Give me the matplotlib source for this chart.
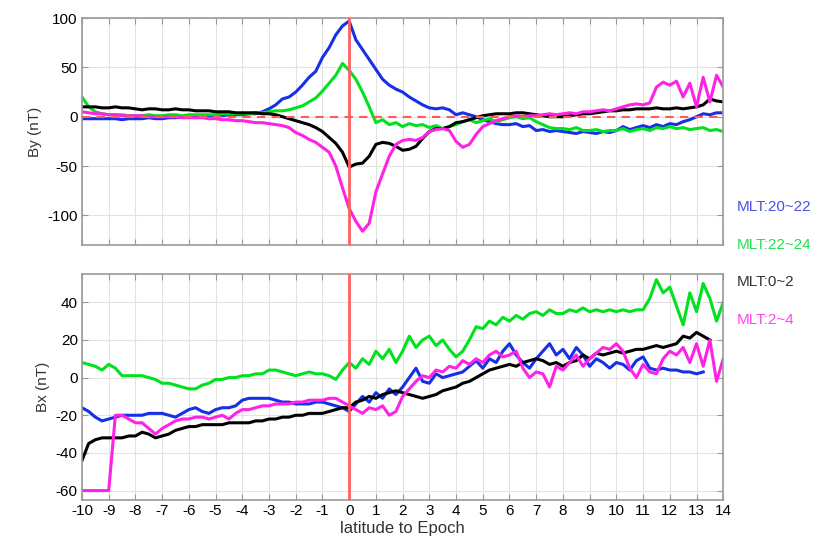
import numpy as np
import matplotlib
matplotlib.use("Agg")
import matplotlib.pyplot as plt

plt.rcParams['font.family'] = ['Liberation Sans', 'DejaVu Sans']
plt.rcParams['axes.unicode_minus'] = False

# sample positions (latitude to epoch), 0.25 deg
lat = np.arange(-10, 14.01, 0.25)
nan = np.nan

# By (nT), top panel
by_20_22 = [-2, -2, -2, -2, -2, -2, -3, -2, -2, -2, -1, -2, -2, -1, -1, 0,
            0, 0, 1, 1, 1, 1, 2, 2, 2, 3, 3, 5, 8, 12, 18, 20,
            25, 32, 40, 46, 60, 70, 83, 92, 97, 78, 68, 58, 48, 38, 32, 28,
            25, 20, 16, 12, 9, 8, 9, 7, 2, 4, 2, 0, -3, -5, -7, -8,
            -8, -7, -10, -9, -14, -13, -15, -14, -15, -16, -17, -15, -16, -17, -15, -16,
            -14, -10, -13, -11, -9, -11, -8, -10, -7, -8, -5, -3, 0, 3, 2, 4,
            4]
by_22_24 = [20, 10, 5, 3, 2, 2, 2, 1, 1, 1, 2, 1, 1, 2, 2, 1,
            2, 2, 2, 2, 2, 3, 3, 3, 3, 3, 4, 4, 5, 6, 6, 7,
            9, 11, 15, 19, 26, 34, 42, 54, 47, 38, 25, 10, -6, -3, -8, -6,
            -10, -7, -9, -8, -11, -9, -12, -10, -8, -5, -3, -6, -4, -2, -5, -3,
            -1, 0, -2, -1, -5, -8, -11, -12, -12, -13, -11, -14, -14, -13, -15, -14,
            -14, -12, -15, -13, -12, -14, -11, -12, -10, -12, -11, -13, -12, -11, -14, -13,
            -15]
by_0_2 = [10, 10, 10, 9, 9, 10, 9, 9, 8, 7, 8, 8, 7, 7, 8, 7,
          7, 6, 6, 6, 5, 5, 5, 4, 4, 4, 4, 3, 3, 2, 0, -2,
          -4, -6, -8, -11, -15, -21, -27, -36, -51, -48, -47, -40, -28, -26, -27, -30,
          -34, -33, -30, -22, -15, -12, -12, -10, -6, -5, -3, -1, 1, 2, 3, 3,
          3, 4, 4, 3, 2, 1, 0, 0, 0, 1, 2, 3, 3, 4, 5, 6,
          6, 7, 7, 8, 8, 8, 9, 8, 8, 9, 8, 9, 10, 12, 18, 16,
          15]
by_2_4 = [5, 4, 3, 3, 2, 2, 1, 1, 1, 1, 0, 0, 0, 0, 0, -1,
          -1, -1, -1, -2, -2, -3, -3, -4, -4, -5, -6, -6, -7, -8, -9, -11,
          -16, -19, -23, -26, -31, -36, -50, -72, -93, -106, -116, -108, -76, -58, -40, -28,
          -24, -23, -24, -21, -15, -13, -12, -14, -25, -31, -28, -18, -10, -7, -4, -2,
          0, 1, 0, 1, 1, 2, 3, 2, 3, 4, 3, 5, 5, 6, 7, 6,
          8, 10, 12, 13, 12, 14, 30, 35, 32, 36, 20, 34, 10, 40, 15, 42,
          30]

# Bx (nT), bottom panel
bx_20_22 = [-16, -18, -21, -23, -22, -21, -20, -20, -20, -20, -19, -19, -19, -20, -21, -19,
            -17, -16, -18, -19, -17, -16, -16, -15, -12, -11, -11, -11, -11, -12, -13, -13,
            -14, -14, -14, -13, -13, -14, -15, -16, -18, -14, -10, -13, -8, -11, -6, -9,
            -5, 0, 5, -2, -3, 2, 0, 1, 2, 3, 6, 9, 5, 10, 8, 14,
            18, 12, 8, 5, 10, 14, 18, 12, 15, 10, 16, 12, 6, 10, 8, 5,
            8, 7, 4, 9, 11, 5, 4, 5, 4, 4, 3, 3, 2, 3, nan, nan,
            nan]
bx_22_24 = [8, 7, 6, 4, 7, 5, 1, 1, 1, 1, 0, -1, -3, -3, -4, -5,
            -6, -6, -4, -3, -1, -1, 0, 0, 1, 1, 2, 2, 4, 4, 3, 2,
            1, 2, 3, 2, 2, 1, -1, 4, 8, 5, 10, 7, 14, 10, 15, 8,
            14, 22, 16, 20, 22, 17, 20, 15, 11, 14, 20, 27, 26, 30, 28, 32,
            30, 33, 31, 34, 35, 33, 36, 34, 34, 36, 35, 37, 35, 36, 35, 36,
            35, 36, 35, 36, 36, 42, 52, 45, 48, 38, 28, 45, 35, 50, 42, 30,
            40]
bx_0_2 = [-44, -35, -33, -32, -32, -32, -32, -31, -31, -29, -30, -32, -31, -30, -28, -27,
          -26, -26, -25, -25, -25, -25, -24, -24, -24, -24, -23, -23, -22, -22, -21, -21,
          -20, -20, -19, -19, -19, -18, -17, -16, -16, -13, -12, -10, -11, -9, -8, -7,
          -8, -9, -10, -11, -10, -9, -7, -6, -5, -3, -2, 0, 2, 4, 5, 6,
          7, 6, 8, 9, 10, 9, 7, 8, 6, 8, 9, 12, 10, 13, 12, 13,
          14, 13, 14, 15, 15, 16, 17, 16, 17, 18, 22, 21, 24, 22, 20, nan,
          nan]
bx_2_4 = [-60, -60, -60, -60, -60, -20, -20, -22, -24, -24, -27, -30, -27, -25, -23, -22,
          -22, -21, -21, -22, -21, -20, -22, -19, -17, -17, -16, -15, -15, -14, -14, -14,
          -13, -13, -12, -12, -12, -11, -11, -13, -15, -17, -19, -16, -17, -15, -20, -18,
          -10, -6, -2, 1, 0, 4, 3, 6, 5, 9, 7, 10, 8, 12, 14, 11,
          12, 14, 5, 0, 3, 2, -5, 6, 4, 8, 12, 6, 10, 13, 16, 15,
          18, 14, 5, 0, 7, 3, 2, 10, 14, 12, 16, 8, 18, 6, 20, -2,
          10]

series_by = [(by_20_22, '#1530e6'), (by_22_24, '#00e21e'),
             (by_0_2, '#000000'), (by_2_4, '#ff22e6')]
series_bx = [(bx_20_22, '#1530e6'), (bx_22_24, '#00e21e'),
             (bx_0_2, '#000000'), (bx_2_4, '#ff22e6')]

legend_labels = ['MLT:20~22', 'MLT:22~24', 'MLT:0~2', 'MLT:2~4']
legend_colors = ['#4a52e0', '#22e050', '#333333', '#ff44ee']
xticks = list(range(-10, 15))

fig = plt.figure(figsize=(8.4, 5.5), dpi=100)
ax1 = fig.add_axes([0.0976, 0.5545, 0.7634, 0.4127])
ax2 = fig.add_axes([0.0976, 0.0909, 0.7634, 0.4109])


def style_axes(ax):
    ax.set_xlim(-10, 14)
    ax.set_xticks(xticks)
    ax.grid(True, color='#e2e2e2', lw=0.8)
    ax.set_axisbelow(True)
    ax.tick_params(direction='in', top=True, right=True, length=4,
                   color='#999999', labelsize=11, pad=3)
    for sp in ax.spines.values():
        sp.set_color('#999999')
        sp.set_linewidth(1.2)


# top panel: By
for vals, col in series_by:
    ax1.plot(lat, vals, color=col, lw=2.2)
ax1.axhline(0, color='#ff5a5a', lw=1.5, ls='--', dashes=(4, 3), zorder=3)
ax1.axvline(0, color='#ff6060', lw=2, zorder=4)
style_axes(ax1)
ax1.set_ylim(-130, 100)
ax1.set_yticks([-100, -50, 0, 50, 100])
ax1.set_xticklabels([])
ax1.set_ylabel('By (nT)', fontsize=11, color='#333333')

# bottom panel: Bx
for vals, col in series_bx:
    ax2.plot(lat, vals, color=col, lw=2.2)
ax2.axvline(0, color='#ff6060', lw=2, zorder=4)
style_axes(ax2)
ax2.set_ylim(-65, 55)
ax2.set_yticks([-60, -40, -20, 0, 20, 40])
ax2.set_ylabel('Bx (nT)', fontsize=11, color='#333333')
ax2.set_xlabel('latitude to Epoch', fontsize=12, color='#333333', labelpad=2)

# labels at the right side
for i, (lab, col) in enumerate(zip(legend_labels, legend_colors)):
    fig.text(0.877, 0.624 - i * 0.0687, lab, color=col, fontsize=11,
             va='center', ha='left')

fig.savefig('out.png', dpi=100)
